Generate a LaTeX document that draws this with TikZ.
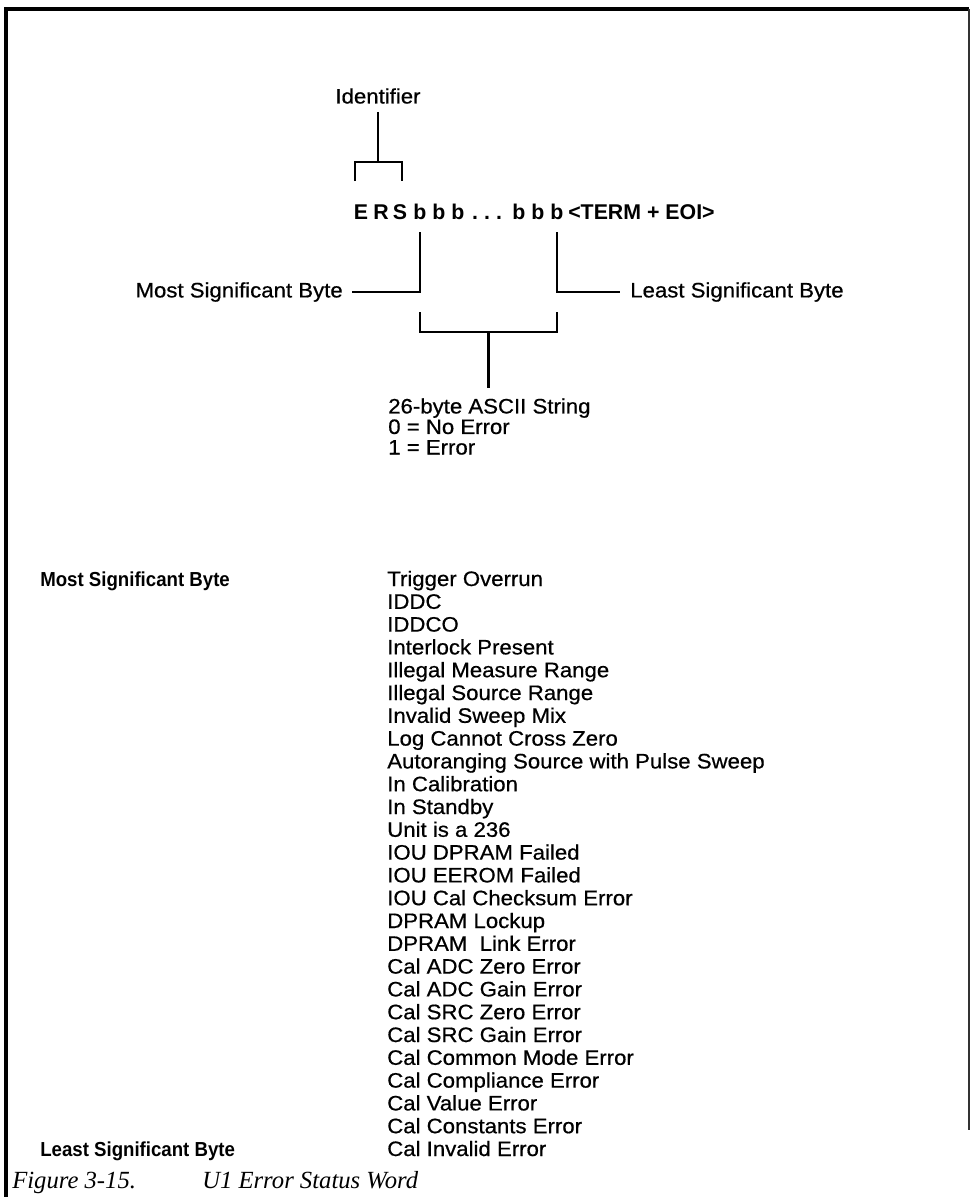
\documentclass[tikz,border=0pt]{standalone}
\usepackage{fontspec}
\setmainfont{Liberation Sans}
\newfontfamily\regf{Liberation Sans}[FakeStretch=1.06,FakeBold=0.6]
\newfontfamily\lblf{Liberation Sans Bold}[FakeStretch=0.92]
\newfontfamily\capf{Liberation Serif}
\tikzset{
  frame/.style={line width=2.4pt},
  conn/.style={line width=1.6pt},
  reg/.style={font=\regf\fontsize{15.7pt}{17pt}\selectfont, inner sep=0pt},
  bld/.style={font=\lblf\fontsize{15.2pt}{17pt}\selectfont, inner sep=0pt},
  bigbld/.style={font=\bfseries\fontsize{16pt}{18pt}\selectfont, inner sep=0pt},
  captext/.style={font=\capf\itshape\fontsize{18.5pt}{20pt}\selectfont, inner sep=0pt},
}
\begin{document}
\begin{tikzpicture}[x=0.75pt,y=-0.75pt]
\useasboundingbox (0,0) rectangle (974,1197);
% frame
\draw[frame] (6,1197) -- (6,9) -- (969,9);
\draw[line width=1.5pt,black!80] (969,9) -- (969,1130);
% identifier
\node[reg] (ident) at (378,96) {Identifier};
\coordinate (idb) at (378,162);
\coordinate (idl) at (355,181);
\coordinate (idr) at (402,181);
\draw[conn] (ident.south) ++(0,8) coordinate (idt) -- (idb);
\draw[conn] (idl) |- (idb) -| (idr);
% string tokens
\foreach \n/\x/\t in {tE/361/E,tR/381/R,tS/400/S,b1/420/b,b2/439/b,b3/458/b,d1/475/.,d2/487/.,d3/499/.,b4/519/b,b5/538/b,b6/557/b}{
  \node[bigbld,anchor=base] (\n) at (\x,219) {\t};
}
\node[bigbld,anchor=base west] (term) at (568,219) {<TERM + EOI>};
% MSB / LSB
\coordinate (mtop) at (420,232);
\coordinate (ltop) at (557,232);
\node[reg,anchor=east] (msb) at (343,292) {Most Significant Byte};
\node[reg,anchor=west] (lsb) at (630,292) {Least Significant Byte};
\coordinate (mend) at (352,292);
\coordinate (lend) at (620,292);
\draw[conn] (mtop) |- (mend);
\draw[conn] (ltop) |- (lend);
% lower bracket
\coordinate (bl) at (420,312);
\coordinate (br) at (557,312);
\coordinate (bm) at (488.5,332);
\coordinate (bb) at (488.5,388);
\draw[conn] (bl) |- (bm) -| (br);
\draw[conn] (bm) -- (bb);
\node[reg,anchor=north west,align=left] (ascii) at (388,398) {26-byte ASCII String\\[-1.6pt]0 = No Error\\[-1.6pt]1 = Error};
% list
\node[bld,anchor=base west] (msbl) at (40,586) {Most Significant Byte};
\node[bld,anchor=base west] (lsbl) at (40,1156) {Least Significant Byte};
\foreach \t [count=\i from 0] in {Trigger Overrun,IDDC,IDDCO,Interlock Present,Illegal Measure Range,Illegal Source Range,Invalid Sweep Mix,Log Cannot Cross Zero,Autoranging Source with Pulse Sweep,In Calibration,In Standby,Unit is a 236,IOU DPRAM Failed,IOU EEROM Failed,IOU Cal Checksum Error,DPRAM Lockup,DPRAM\ \ Link Error,Cal ADC Zero Error,Cal ADC Gain Error,Cal SRC Zero Error,Cal SRC Gain Error,Cal Common Mode Error,Cal Compliance Error,Cal Value Error,Cal Constants Error,Cal Invalid Error}{
  \node[reg,anchor=base west] (item\i) at (387,586+22.8*\i) {\t};
}
% caption
\node[captext,anchor=base west] (fig) at (12,1188) {Figure 3-15.};
\node[captext,anchor=base west] (figt) at (202,1188) {U1 Error Status Word};
\end{tikzpicture}
\end{document}
